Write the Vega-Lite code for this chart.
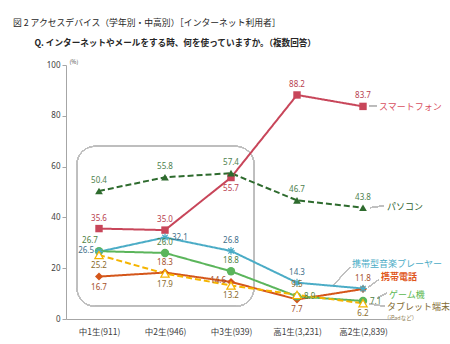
{
  "$schema": "https://vega.github.io/schema/vega-lite/v6.json",
  "width": 330,
  "height": 254,
  "autosize": "none",
  "padding": {"left": 66, "top": 65, "right": 54, "bottom": 25},
  "background": "white",
  "config": {
    "view": {"stroke": null},
    "font": "Noto Sans CJK JP"
  },
  "title": {
    "text": "図 2 アクセスデバイス（学年別・中高別）［インターネット利用者］",
    "subtitle": "\u200b\u3000\u3000\u2002Q. インターネットやメールをする時、何を使っていますか。（複数回答）",
    "anchor": "start",
    "frame": "group",
    "dx": -53,
    "offset": 11,
    "fontSize": 8.8,
    "fontWeight": "normal",
    "color": "#262626",
    "subtitleFontSize": 8.6,
    "subtitleFontWeight": "bold",
    "subtitleColor": "#262626",
    "subtitlePadding": 12,
    "font": "Noto Sans CJK JP",
    "subtitleFont": "Noto Sans CJK JP"
  },
  "data": {
    "values": [
      {"series": "スマートフォン", "grade": "中1生(911)", "value": 35.6},
      {"series": "スマートフォン", "grade": "中2生(946)", "value": 35.0},
      {"series": "スマートフォン", "grade": "中3生(939)", "value": 55.7},
      {"series": "スマートフォン", "grade": "高1生(3,231)", "value": 88.2},
      {"series": "スマートフォン", "grade": "高2生(2,839)", "value": 83.7},
      {"series": "パソコン", "grade": "中1生(911)", "value": 50.4},
      {"series": "パソコン", "grade": "中2生(946)", "value": 55.8},
      {"series": "パソコン", "grade": "中3生(939)", "value": 57.4},
      {"series": "パソコン", "grade": "高1生(3,231)", "value": 46.7},
      {"series": "パソコン", "grade": "高2生(2,839)", "value": 43.8},
      {"series": "携帯型音楽プレーヤー", "grade": "中1生(911)", "value": 26.5},
      {"series": "携帯型音楽プレーヤー", "grade": "中2生(946)", "value": 32.1},
      {"series": "携帯型音楽プレーヤー", "grade": "中3生(939)", "value": 26.8},
      {"series": "携帯型音楽プレーヤー", "grade": "高1生(3,231)", "value": 14.3},
      {"series": "携帯型音楽プレーヤー", "grade": "高2生(2,839)", "value": 12.0},
      {"series": "携帯電話", "grade": "中1生(911)", "value": 16.7},
      {"series": "携帯電話", "grade": "中2生(946)", "value": 18.3},
      {"series": "携帯電話", "grade": "中3生(939)", "value": 14.6},
      {"series": "携帯電話", "grade": "高1生(3,231)", "value": 7.7},
      {"series": "携帯電話", "grade": "高2生(2,839)", "value": 11.8},
      {"series": "ゲーム機", "grade": "中1生(911)", "value": 26.7},
      {"series": "ゲーム機", "grade": "中2生(946)", "value": 26.0},
      {"series": "ゲーム機", "grade": "中3生(939)", "value": 18.8},
      {"series": "ゲーム機", "grade": "高1生(3,231)", "value": 8.9},
      {"series": "ゲーム機", "grade": "高2生(2,839)", "value": 7.1},
      {"series": "タブレット端末", "grade": "中1生(911)", "value": 25.2},
      {"series": "タブレット端末", "grade": "中2生(946)", "value": 17.9},
      {"series": "タブレット端末", "grade": "中3生(939)", "value": 13.2},
      {"series": "タブレット端末", "grade": "高1生(3,231)", "value": 9.5},
      {"series": "タブレット端末", "grade": "高2生(2,839)", "value": 6.2}
    ]
  },
  "encoding": {
    "x": {
      "field": "grade",
      "type": "ordinal",
      "sort": null,
      "scale": {"type": "point", "padding": 0.5, "domain": ["中1生(911)", "中2生(946)", "中3生(939)", "高1生(3,231)", "高2生(2,839)"]},
      "axis": {
        "title": null,
        "labelAngle": 0,
        "labelFont": "Noto Sans CJK JP",
        "labelFontSize": 8.5,
        "labelColor": "#404040",
        "labelPadding": 8,
        "ticks": false,
        "domainColor": "#A6A6A6",
        "grid": false
      }
    },
    "y": {
      "field": "value",
      "type": "quantitative",
      "scale": {"domain": [0, 100], "nice": false},
      "axis": {
        "title": "(%)",
        "titleAngle": 0,
        "titleX": 3,
        "titleY": -1,
        "titleAlign": "left",
        "titleBaseline": "bottom",
        "titleFontSize": 5.5,
        "titleFontWeight": "normal",
        "titleColor": "#404040",
        "values": [0, 20, 40, 60, 80, 100],
        "labelFont": "Noto Sans",
        "labelFontSize": 8,
        "labelColor": "#404040",
        "tickColor": "#A6A6A6",
        "tickSize": 4,
        "domainColor": "#A6A6A6",
        "grid": false
      }
    }
  },
  "layer": [
    {
      "mark": {"type": "rect", "filled": false, "stroke": "#BFBFBF", "strokeWidth": 0.8, "cornerRadius": 18, "xOffset": -22, "x2Offset": 23},
      "encoding": {
        "x": {"datum": "中1生(911)"},
        "x2": {"datum": "中3生(939)"},
        "y": {"datum": 68},
        "y2": {"datum": 5}
      }
    },
    {
      "mark": {"type": "rule", "stroke": "#BFBFBF", "strokeWidth": 0.8, "xOffset": 6, "x2Offset": 14},
      "encoding": {"x": {"datum": "高2生(2,839)"}, "x2": {"datum": "高2生(2,839)"}, "y": {"datum": 83.7}, "y2": {"datum": 83.7}}
    },
    {
      "mark": {"type": "rule", "stroke": "#BFBFBF", "strokeWidth": 0.8, "xOffset": 7, "x2Offset": 21},
      "encoding": {"x": {"datum": "高2生(2,839)"}, "x2": {"datum": "高2生(2,839)"}, "y": {"datum": 43.8}, "y2": {"datum": 44.6}}
    },
    {
      "mark": {"type": "rule", "stroke": "#BFBFBF", "strokeWidth": 0.8, "xOffset": -29, "x2Offset": -13},
      "encoding": {"x": {"datum": "高2生(2,839)"}, "x2": {"datum": "高2生(2,839)"}, "y": {"datum": 13.6}, "y2": {"datum": 20.4}}
    },
    {
      "mark": {"type": "rule", "stroke": "#BFBFBF", "strokeWidth": 0.8, "xOffset": 5, "x2Offset": 16},
      "encoding": {"x": {"datum": "高2生(2,839)"}, "x2": {"datum": "高2生(2,839)"}, "y": {"datum": 12.4}, "y2": {"datum": 15.6}}
    },
    {
      "mark": {"type": "rule", "stroke": "#BFBFBF", "strokeWidth": 0.8, "xOffset": 14, "x2Offset": 24},
      "encoding": {"x": {"datum": "高2生(2,839)"}, "x2": {"datum": "高2生(2,839)"}, "y": {"datum": 8.2}, "y2": {"datum": 10.2}}
    },
    {
      "mark": {"type": "rule", "stroke": "#BFBFBF", "strokeWidth": 0.8, "xOffset": 6, "x2Offset": 22},
      "encoding": {"x": {"datum": "高2生(2,839)"}, "x2": {"datum": "高2生(2,839)"}, "y": {"datum": 6.0}, "y2": {"datum": 5.0}}
    },
    {
      "mark": {"type": "line", "strokeWidth": 2},
      "encoding": {
        "color": {
          "field": "series",
          "type": "nominal",
          "legend": null,
          "scale": {
            "domain": ["スマートフォン", "パソコン", "携帯型音楽プレーヤー", "携帯電話", "ゲーム機", "タブレット端末"],
            "range": ["#C8465A", "#2E6B2E", "#4BACC6", "#D4561A", "#5BB55B", "#F5B400"]
          }
        },
        "strokeDash": {
          "field": "series",
          "type": "nominal",
          "legend": null,
          "scale": {
            "domain": ["スマートフォン", "パソコン", "携帯型音楽プレーヤー", "携帯電話", "ゲーム機", "タブレット端末"],
            "range": [[1, 0], [6, 3], [1, 0], [1, 0], [1, 0], [6, 3]]
          }
        }
      }
    },
    {
      "transform": [{"filter": "datum.series !== 'タブレット端末' && datum.series !== '携帯型音楽プレーヤー'"}],
      "mark": {"type": "point", "filled": true, "opacity": 1, "strokeWidth": 1.2},
      "encoding": {
        "color": {"field": "series", "type": "nominal", "legend": null},
        "shape": {
          "field": "series",
          "type": "nominal",
          "legend": null,
          "scale": {
            "domain": ["スマートフォン", "パソコン", "携帯電話", "ゲーム機"],
            "range": ["square", "triangle-up", "diamond", "circle"]
          }
        },
        "size": {
          "field": "series",
          "type": "nominal",
          "legend": null,
          "scale": {
            "domain": ["スマートフォン", "パソコン", "携帯電話", "ゲーム機"],
            "range": [55, 70, 50, 55]
          }
        }
      }
    },
    {
      "transform": [{"filter": "datum.series === '携帯型音楽プレーヤー'"}],
      "mark": {"type": "point", "filled": false, "opacity": 1, "strokeWidth": 1.2, "stroke": "#4BACC6", "size": 60, "shape": "M-1,0L1,0M0,-1L0,1M-0.7,-0.7L0.7,0.7M-0.7,0.7L0.7,-0.7"}
    },
    {
      "transform": [{"filter": "datum.series === 'タブレット端末'"}],
      "mark": {"type": "point", "shape": "triangle-up", "filled": true, "fill": "white", "stroke": "#F5B400", "strokeWidth": 1.2, "opacity": 1, "size": 70}
    },
    {
      "transform": [{"filter": "indexof(['スマートフォン|中1生(911)','スマートフォン|中2生(946)','スマートフォン|高1生(3,231)','スマートフォン|高2生(2,839)','パソコン|中1生(911)','パソコン|中2生(946)','パソコン|中3生(939)','パソコン|高1生(3,231)','パソコン|高2生(2,839)','携帯型音楽プレーヤー|中3生(939)','携帯型音楽プレーヤー|高1生(3,231)','携帯電話|中2生(946)','携帯電話|高2生(2,839)','ゲーム機|中2生(946)','ゲーム機|中3生(939)','タブレット端末|高1生(3,231)'], datum.series + '|' + datum.grade) >= 0"}],
      "mark": {"type": "text", "dy": -10, "font": "Noto Sans", "fontSize": 8},
      "encoding": {
        "text": {"field": "value", "type": "quantitative", "format": ".1f"},
        "fill": {
          "field": "series",
          "type": "nominal",
          "legend": null,
          "scale": {
            "domain": ["スマートフォン", "パソコン", "携帯型音楽プレーヤー", "携帯電話", "ゲーム機", "タブレット端末"],
            "range": ["#B8404F", "#4E7F4E", "#3F6F8A", "#A5502A", "#4F7F3F", "#8B6B2E"]
          }
        }
      }
    },
    {
      "transform": [{"filter": "indexof(['ゲーム機|中1生(911)'], datum.series + '|' + datum.grade) >= 0"}],
      "mark": {"type": "text", "dy": -10, "dx": -9, "font": "Noto Sans", "fontSize": 8},
      "encoding": {
        "text": {"field": "value", "type": "quantitative", "format": ".1f"},
        "fill": {"field": "series", "type": "nominal", "legend": null}
      }
    },
    {
      "transform": [{"filter": "indexof(['スマートフォン|中3生(939)','携帯電話|中1生(911)','携帯電話|高1生(3,231)','タブレット端末|中1生(911)','タブレット端末|中2生(946)','タブレット端末|中3生(939)','タブレット端末|高2生(2,839)'], datum.series + '|' + datum.grade) >= 0"}],
      "mark": {"type": "text", "dy": 11, "font": "Noto Sans", "fontSize": 8},
      "encoding": {
        "text": {"field": "value", "type": "quantitative", "format": ".1f"},
        "fill": {"field": "series", "type": "nominal", "legend": null}
      }
    },
    {
      "transform": [{"filter": "indexof(['携帯型音楽プレーヤー|中1生(911)','携帯電話|中3生(939)'], datum.series + '|' + datum.grade) >= 0"}],
      "mark": {"type": "text", "dx": -5, "dy": -1, "align": "right", "font": "Noto Sans", "fontSize": 8},
      "encoding": {
        "text": {"field": "value", "type": "quantitative", "format": ".1f"},
        "fill": {"field": "series", "type": "nominal", "legend": null}
      }
    },
    {
      "transform": [{"filter": "indexof(['携帯型音楽プレーヤー|中2生(946)','ゲーム機|高1生(3,231)','ゲーム機|高2生(2,839)'], datum.series + '|' + datum.grade) >= 0"}],
      "mark": {"type": "text", "dx": 7, "dy": 1, "align": "left", "font": "Noto Sans", "fontSize": 8},
      "encoding": {
        "text": {"field": "value", "type": "quantitative", "format": ".1f"},
        "fill": {"field": "series", "type": "nominal", "legend": null}
      }
    },
    {
      "transform": [{"filter": "datum.series === 'スマートフォン' && datum.grade === '高2生(2,839)'"}],
      "mark": {"type": "text", "text": "スマートフォン", "align": "left", "dx": 16, "dy": 1, "fontSize": 9, "fill": "#D9505F"}
    },
    {
      "transform": [{"filter": "datum.series === 'パソコン' && datum.grade === '高2生(2,839)'"}],
      "mark": {"type": "text", "text": "パソコン", "align": "left", "dx": 24, "dy": -1, "fontSize": 9, "fill": "#2E5F2E"}
    },
    {
      "transform": [{"filter": "datum.series === '携帯型音楽プレーヤー' && datum.grade === '高2生(2,839)'"}],
      "mark": {"type": "text", "text": "携帯型音楽プレーヤー", "align": "left", "dx": -11, "dy": -25, "fontSize": 9, "fill": "#4BACC6"}
    },
    {
      "transform": [{"filter": "datum.series === '携帯電話' && datum.grade === '高2生(2,839)'"}],
      "mark": {"type": "text", "text": "携帯電話", "align": "left", "dx": 18, "dy": -12, "fontSize": 9, "fontWeight": "bold", "fill": "#E0561B"}
    },
    {
      "transform": [{"filter": "datum.series === 'ゲーム機' && datum.grade === '高2生(2,839)'"}],
      "mark": {"type": "text", "text": "ゲーム機", "align": "left", "dx": 26, "dy": -6, "fontSize": 9, "fill": "#5BB84F"}
    },
    {
      "transform": [{"filter": "datum.series === 'タブレット端末' && datum.grade === '高2生(2,839)'"}],
      "mark": {"type": "text", "text": "タブレット端末", "align": "left", "dx": 24, "dy": 4, "fontSize": 9, "fill": "#7F6A30"}
    },
    {
      "transform": [{"filter": "datum.series === 'タブレット端末' && datum.grade === '高2生(2,839)'"}],
      "mark": {"type": "text", "text": "（iPadなど）", "align": "left", "dx": 21, "dy": 15, "fontSize": 5.5, "fill": "#8C7A50"}
    }
  ]
}
